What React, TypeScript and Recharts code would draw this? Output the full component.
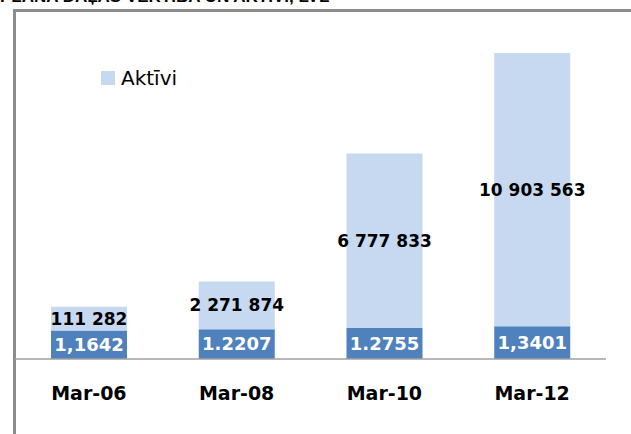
import React from 'react';
import { BarChart, Bar, XAxis, YAxis, LabelList } from 'recharts';

const months = ['Mar-06', 'Mar-08', 'Mar-10', 'Mar-12'];
const vertiba = [1.1642, 1.2207, 1.2755, 1.3401];
const vertibaLabels = ['1,1642', '1.2207', '1.2755', '1,3401'];
// bar heights as drawn in the picture (same units as the lower segment)
const aktivi = [0.98, 1.96, 7.15, 11.2];
const aktiviLabels = ['111 282', '2 271 874', '6 777 833', '10 903 563'];

const data = months.map((m, i) => ({
  month: m,
  vertiba: vertiba[i],
  vertibaLabel: vertibaLabels[i],
  aktivi: aktivi[i],
  aktiviLabel: aktiviLabels[i],
}));

const FONT = '"DejaVu Sans", Verdana, sans-serif';

const MonthTick = (props: any) => {
  const { x, y, payload } = props;
  return (
    <text x={x} y={y + 34} textAnchor="middle" dominantBaseline="central" fontFamily={FONT} fontWeight={700} fontSize={19} fill="#000">
      {payload.value}
    </text>
  );
};

export default function App() {
  return (
    <div style={{ position: 'fixed', left: 0, top: 0, width: 631, height: 434, overflow: 'hidden', background: '#fff' }}>
      <div style={{ position: 'absolute', left: 0, top: -13, fontFamily: '"Liberation Sans", Arial, sans-serif', fontWeight: 700, fontSize: 17, whiteSpace: 'nowrap', color: '#000' }}>
        PLĀNA DAĻAS VĒRTĪBA UN AKTĪVI, LVL
      </div>
      <div style={{ position: 'absolute', left: 13, top: 9, width: 700, height: 500, border: '3px solid #8c8c8c' }} />
      <div style={{ position: 'absolute', left: 101, top: 66, display: 'flex', alignItems: 'center', fontFamily: FONT, fontSize: 20, color: '#000' }}>
        <span style={{ width: 14, height: 14, background: '#C6D9F1', marginRight: 6, display: 'inline-block' }} />
        Aktīvi
      </div>
      <div style={{ position: 'absolute', left: 0, top: 0 }}>
        <BarChart width={631} height={434} data={data} margin={{ top: 53, right: 25, left: 15, bottom: 35 }} barSize={76}>
          <XAxis dataKey="month" height={40} tickLine={false} tickSize={0} tickMargin={0} axisLine={{ stroke: '#a0a0a0', strokeWidth: 1.5 }} tick={<MonthTick />} />
          <YAxis hide domain={[0, 12.5]} />
          <Bar dataKey="vertiba" stackId="a" fill="#4F81BD" isAnimationActive={false}>
            <LabelList dataKey="vertibaLabel" position="center" fill="#fff" fontFamily={FONT} fontWeight={700} fontSize={18} />
          </Bar>
          <Bar dataKey="aktivi" stackId="a" fill="#C6D9F1" isAnimationActive={false}>
            <LabelList dataKey="aktiviLabel" position="center" fill="#000" fontFamily={FONT} fontWeight={700} fontSize={17} />
          </Bar>
        </BarChart>
      </div>
    </div>
  );
}
